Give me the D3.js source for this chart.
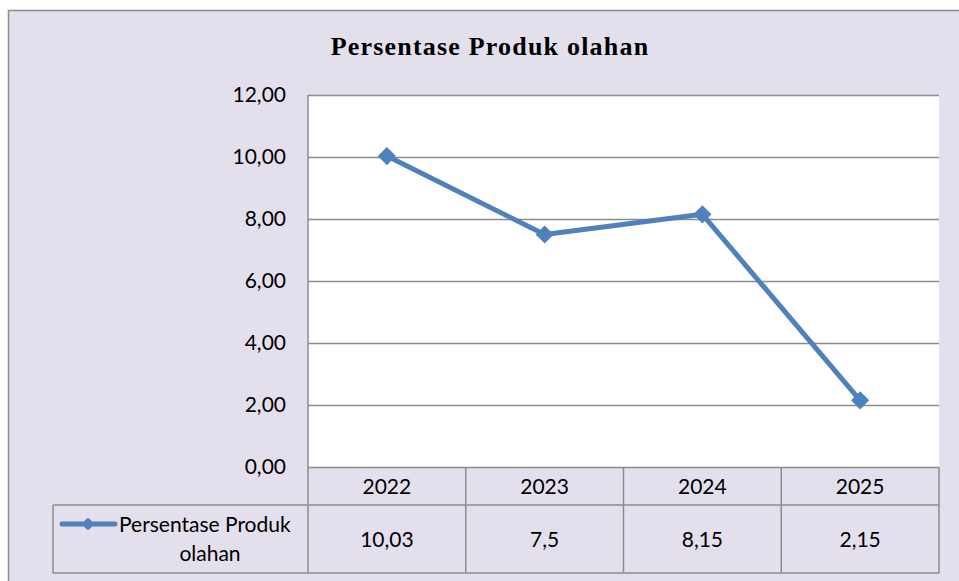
<!DOCTYPE html>
<html>
<head>
<meta charset="utf-8">
<script src="https://cdn.jsdelivr.net/npm/d3@7"></script>
<style>
  body { margin: 0; background: #fff; }
  svg { display: block; }
</style>
</head>
<body>
<svg id="chart" width="959" height="581"></svg>
<script>
const years = ["2022", "2023", "2024", "2025"];
const values = [10.03, 7.5, 8.15, 2.15];
const valueLabels = ["10,03", "7,5", "8,15", "2,15"];
const yTicks = [0, 2, 4, 6, 8, 10, 12];
const seriesName = "Persentase Produk olahan";
const chartTitle = "Persentase Produk olahan";

const svg = d3.select("#chart");
const blue = "#4F81BD";
const gridColor = "#8c8c8c";
const font = "Lato, 'Open Sans', sans-serif";
const fs = 21;

// chart background + frame
svg.append("rect")
  .attr("x", 8.5).attr("y", 10.5).attr("width", 970).attr("height", 600)
  .attr("fill", "#E4DFEC").attr("stroke", "#8c8c8c").attr("stroke-width", 1.5);

const plot = { left: 308, right: 939, top: 95, bottom: 467 };

const x = d3.scaleBand().domain(years).range([plot.left, plot.right]);
const y = d3.scaleLinear().domain([0, 12]).range([plot.bottom, plot.top]);

svg.append("rect")
  .attr("x", plot.left).attr("y", plot.top)
  .attr("width", plot.right - plot.left).attr("height", plot.bottom - plot.top)
  .attr("fill", "#fff");

// gridlines + y labels
const yAxis = d3.axisLeft(y).tickValues(yTicks)
  .tickSize(-(plot.right - plot.left))
  .tickPadding(22)
  .tickFormat(d => d3.format(".2f")(d).replace(".", ","));

const gy = svg.append("g").attr("transform", `translate(${plot.left},0)`).call(yAxis);
gy.select(".domain").remove();
gy.selectAll(".tick line").attr("stroke", gridColor).attr("stroke-width", 1.5);
gy.selectAll(".tick text")
  .attr("font-family", font).attr("font-size", fs).attr("fill", "#000");

svg.append("line")
  .attr("x1", plot.left).attr("x2", plot.left)
  .attr("y1", plot.top).attr("y2", plot.bottom)
  .attr("stroke", gridColor).attr("stroke-width", 1.5);

// data table
const row1 = { top: 467, bottom: 505 };
const row2 = { top: 505, bottom: 573 };
const legendLeft = 53;

const table = svg.append("g").attr("stroke", gridColor).attr("stroke-width", 1.5).attr("fill", "none");
table.append("line").attr("x1", legendLeft).attr("x2", plot.right).attr("y1", row2.top).attr("y2", row2.top);
table.append("line").attr("x1", legendLeft).attr("x2", plot.right).attr("y1", row2.bottom).attr("y2", row2.bottom);
table.append("line").attr("x1", legendLeft).attr("x2", legendLeft).attr("y1", row2.top).attr("y2", row2.bottom);
const edges = years.map(d => x(d)).concat([plot.right]);
edges.forEach(ex => {
  table.append("line").attr("x1", ex).attr("x2", ex).attr("y1", row1.top).attr("y2", row2.bottom);
});

svg.selectAll(".yearLabel").data(years).enter().append("text")
  .attr("x", d => x(d) + x.bandwidth() / 2)
  .attr("y", 494)
  .attr("text-anchor", "middle")
  .attr("font-family", font).attr("font-size", fs)
  .text(d => d);

svg.selectAll(".valLabel").data(valueLabels).enter().append("text")
  .attr("x", (d, i) => x(years[i]) + x.bandwidth() / 2)
  .attr("y", 547)
  .attr("text-anchor", "middle")
  .attr("font-family", font).attr("font-size", fs)
  .text(d => d);

// legend key in table
const keyY = 524;
svg.append("line")
  .attr("x1", 62).attr("x2", 115).attr("y1", keyY).attr("y2", keyY)
  .attr("stroke", blue).attr("stroke-width", 5).attr("stroke-linecap", "round");
svg.append("path")
  .attr("d", d3.symbol(d3.symbolDiamond2, 110)())
  .attr("transform", `translate(88,${keyY})`)
  .attr("fill", blue);
svg.append("text")
  .attr("x", 119).attr("y", 532)
  .attr("font-family", font).attr("font-size", fs)
  .text("Persentase Produk");
svg.append("text")
  .attr("x", 210).attr("y", 561)
  .attr("text-anchor", "middle")
  .attr("font-family", font).attr("font-size", fs)
  .text("olahan");

// series line
const line = d3.line()
  .x((d, i) => x(years[i]) + x.bandwidth() / 2)
  .y(d => y(d));

svg.append("path")
  .datum(values)
  .attr("d", line)
  .attr("fill", "none")
  .attr("stroke", blue).attr("stroke-width", 5)
  .attr("stroke-linejoin", "round");

svg.selectAll(".marker").data(values).enter().append("path")
  .attr("d", d3.symbol(d3.symbolDiamond2, 210)())
  .attr("transform", (d, i) => `translate(${x(years[i]) + x.bandwidth() / 2},${y(d)})`)
  .attr("fill", blue);

// title
svg.append("text")
  .attr("x", 490).attr("y", 55)
  .attr("text-anchor", "middle")
  .attr("font-family", "'Liberation Serif', 'DejaVu Serif', serif")
  .attr("font-weight", "bold").attr("font-size", 26)
  .attr("letter-spacing", 1.2)
  .text(chartTitle);
</script>
</body>
</html>
